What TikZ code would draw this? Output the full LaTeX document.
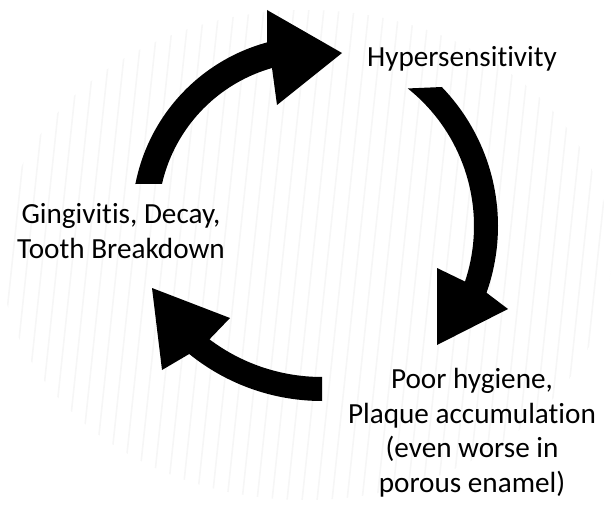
\documentclass[tikz,border=0pt]{standalone}
\usepackage{fontspec}
\setmainfont{Carlito}[Ligatures=NoCommon]
\begin{document}
\begin{tikzpicture}[x=1bp,y=-1bp,
  arrowfill/.style={fill=black},
  txt/.style={font=\fontsize{29.3}{34.6}\selectfont, align=center, inner sep=0pt, text=black, anchor=base},
  hatchline/.style={draw=black!3.5, line width=1.6bp}]
\useasboundingbox (0,0) rectangle (612,508);
% faint background hatching
\begin{scope}
  \clip (306,255) ellipse [x radius=305, y radius=245];
  \foreach \i in {-10,...,50} \draw[hatchline] ({\i*15},520) -- ({\i*15+57},-20);
\end{scope}
% arrow 1 (left -> top)
\fill[arrowfill] (135,184)
  -- plot[domain=191:254.8, samples=40] ({315+183*cos(\x)},{219+183*sin(\x)})
  -- (267,10) -- (342,53) -- (277,105)
  -- plot[domain=254.1:192.9, samples=40] ({315+157*cos(\x)},{219+157*sin(\x)})
  -- cycle;
% arrow 2 (top -> bottom right)
\fill[arrowfill] (442,87)
  -- plot[domain=-44:19.5, samples=40] ({298+200*cos(\x)},{226+200*sin(\x)})
  -- (508,309) -- (437,345) -- (437,268)
  -- plot[domain=18.4:-51.4, samples=40] ({298+176*cos(\x)},{226+176*sin(\x)})
  -- cycle;
% arrow 3 (bottom -> left)
\fill[arrowfill] (322,401)
  -- plot[domain=90:129, samples=30] ({322+211*cos(\x)},{190+211*sin(\x)})
  -- (162,370) -- (152,288) -- (230,318)
  -- plot[domain=127:90, samples=30] ({322+187*cos(\x)},{190+187*sin(\x)})
  -- cycle;
% labels (base anchor = baseline of the last line)
\node[txt] (hyp) at (462,67) {Hypersensitivity};
\node[txt] (ging) at (121,258) {Gingivitis, Decay,\\Tooth Breakdown};
\node[txt] (poor) at (472,492) {Poor hygiene,\\Plaque accumulation\\(even worse in\\porous enamel)};
\end{tikzpicture}
\end{document}
